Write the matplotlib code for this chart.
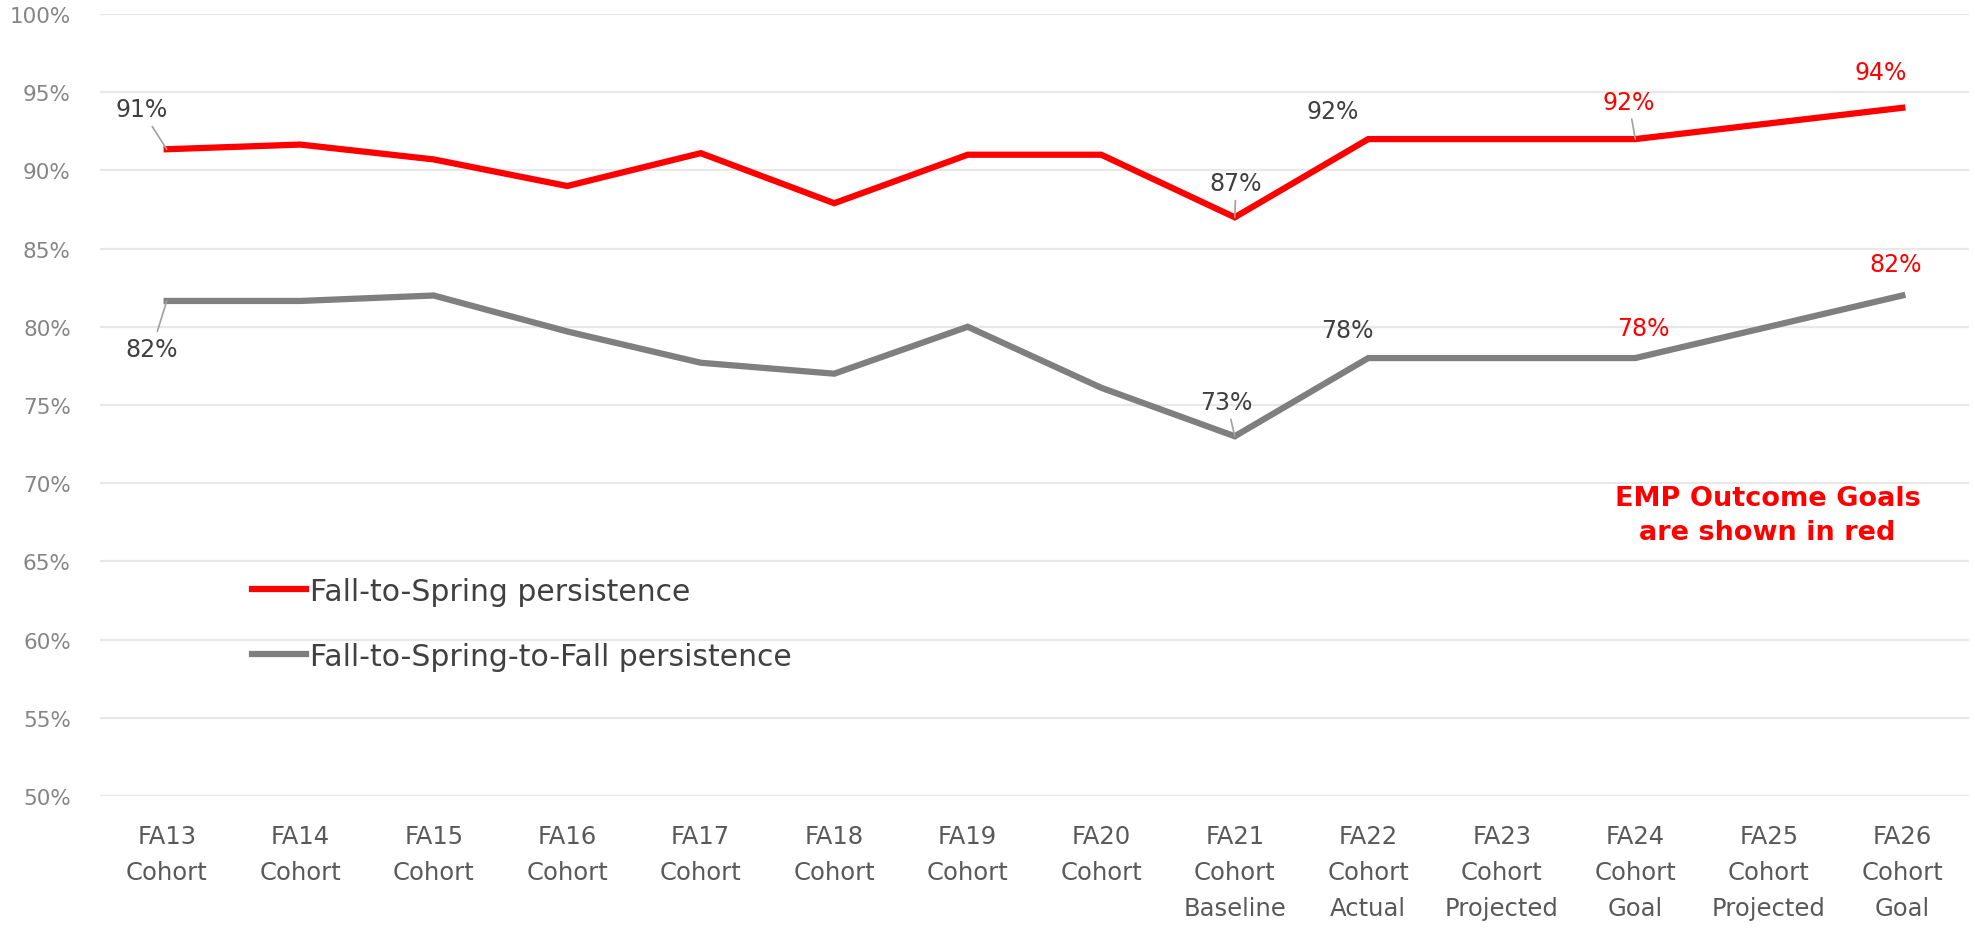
import numpy as np
import matplotlib.pyplot as plt

# cohorts on the x axis
cohorts = ["FA13\nCohort", "FA14\nCohort", "FA15\nCohort", "FA16\nCohort", "FA17\nCohort",
           "FA18\nCohort", "FA19\nCohort", "FA20\nCohort", "FA21\nCohort\nBaseline",
           "FA22\nCohort\nActual", "FA23\nCohort\nProjected", "FA24\nCohort\nGoal",
           "FA25\nCohort\nProjected", "FA26\nCohort\nGoal"]

# persistence rates (%)
fall_spring = [91.35, 91.65, 90.7, 89.0, 91.1, 87.9, 91.0, 91.0, 87.0, 92.0, 92.0, 92.0, 93.0, 94.0]
fall_spring_fall = [81.65, 81.65, 82.0, 79.7, 77.7, 77.0, 80.0, 76.1, 73.0, 78.0, 78.0, 78.0, 80.0, 82.0]

RED = "#ff0000"
GRAY = "#7f7f7f"
DARK = "#404040"

plt.rcParams['font.family'] = ['DejaVu Sans']

fig = plt.figure(figsize=(19.75, 9.29), dpi=100)
ax = fig.add_axes([0.0506, 0.1421, 0.9464, 0.8418])

x = np.arange(len(cohorts))
ax.plot(x, fall_spring, color=RED, lw=4.5, solid_joinstyle='miter', label="Fall-to-Spring persistence")
ax.plot(x, fall_spring_fall, color=GRAY, lw=4.5, solid_joinstyle='miter', label="Fall-to-Spring-to-Fall persistence")

ax.set_xlim(-0.5, len(cohorts) - 0.5)
ax.set_ylim(50, 100)
ax.set_yticks(np.arange(50, 101, 5))
ax.set_yticklabels([f"{v}%" for v in range(50, 101, 5)], color="#858585", fontsize=15.5)
ax.set_xticks(x)
ax.set_xticklabels(cohorts, color="#595959", fontsize=17.5, linespacing=1.65)
ax.tick_params(axis='both', length=0)
ax.tick_params(axis='y', pad=21)
ax.tick_params(axis='x', pad=20)
ax.grid(axis='y', color="#e8e8e8", lw=1.6)
ax.set_axisbelow(True)
for s in ax.spines.values():
    s.set_visible(False)

# data labels: (index, series, text, text x, text y, color, leader line)
labels = [
    (0, fall_spring, "91%", -0.19, 93.9, DARK, True),
    (0, fall_spring_fall, "82%", -0.11, 78.6, DARK, True),
    (8, fall_spring, "87%", 8.01, 89.2, DARK, True),
    (8, fall_spring_fall, "73%", 7.94, 75.2, DARK, True),
    (9, fall_spring, "92%", 8.73, 93.8, DARK, False),
    (9, fall_spring_fall, "78%", 8.84, 79.8, DARK, False),
    (11, fall_spring, "92%", 10.95, 94.4, RED, True),
    (11, fall_spring_fall, "78%", 11.06, 79.9, RED, False),
    (13, fall_spring, "94%", 12.84, 96.3, RED, False),
    (13, fall_spring_fall, "82%", 12.95, 84.0, RED, False),
]
for i, ser, txt, tx, ty, c, leader in labels:
    arrow = dict(arrowstyle='-', color="#a0a0a0", lw=1.2, shrinkA=2, shrinkB=0) if leader else None
    ax.annotate(txt, xy=(i, ser[i]), xytext=(tx, ty), ha='center', va='center',
                fontsize=17, color=c, arrowprops=arrow)

ax.text(11.99, 67.97, "EMP Outcome Goals\nare shown in red", color=RED, fontsize=19.5,
        fontweight='bold', ha='center', va='center', linespacing=1.4)

leg = fig.legend(loc='upper left', bbox_to_anchor=(0.1276, 0.378), frameon=False,
                 fontsize=21.5, handlelength=1.8, handletextpad=0.15, labelspacing=1.2,
                 borderpad=0, borderaxespad=0)
for t in leg.get_texts():
    t.set_color(DARK)

fig.savefig("out.png", dpi=100)
